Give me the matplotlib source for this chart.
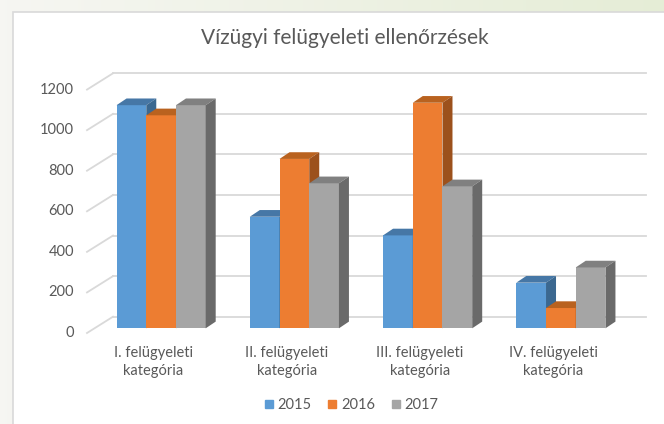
import matplotlib
matplotlib.use('Agg')
import matplotlib.pyplot as plt
import matplotlib.transforms as mtransforms
from matplotlib.patches import Polygon, Rectangle
from matplotlib.lines import Line2D
import numpy as np

# data
categories = ['I. felügyeleti\nkategória', 'II. felügyeleti\nkategória',
              'III. felügyeleti\nkategória', 'IV. felügyeleti\nkategória']
years = ['2015', '2016', '2017']
v2015 = [1100, 550, 458, 225]
v2016 = [1050, 835, 1112, 100]
v2017 = [1100, 715, 700, 300]
yticks = [0, 200, 400, 600, 800, 1000, 1200]
title = 'Vízügyi felügyeleti ellenőrzések'

front_colors = ['#5b9bd5', '#ed7d31', '#a5a5a5']
top_colors = ['#4677a6', '#b9621f', '#808080']
side_colors = ['#3b6890', '#9c511c', '#6a6a6a']
text_color = '#595959'
grid_color = '#d9d9d9'

plt.rcParams['font.family'] = ['Lato', 'DejaVu Sans']

W, H = 664, 424
fig = plt.figure(figsize=(W / 100, H / 100), dpi=100)

# slide background + chart area
bg = fig.add_axes([0, 0, 1, 1], zorder=-10)
grad = np.linspace(0, 1, 256)[:, None]
c0 = np.array([0.965, 0.965, 0.950])
c1 = np.array([0.900, 0.930, 0.840])
bg.imshow((c0 + (c1 - c0) * grad)[None, :, :], aspect='auto', extent=[0, 1, 0, 1])
bg.add_patch(Rectangle((13 / W, -0.1), 1, 1.1 - 12 / H, facecolor='white',
                       edgecolor=grid_color, lw=1.2))
bg.set_xlim(0, 1)
bg.set_ylim(0, 1)
bg.axis('off')

# plot axes = front plane of the bars
ax_l, ax_b, ax_w, ax_h = 94.5, 95.7, 533, 243.4
ax = fig.add_axes([ax_l / W, ax_b / H, ax_w / W, ax_h / H])
ax.set_xlim(-0.5, 3.5)
ax.set_ylim(0, 1200)
ax.axis('off')
px_x = ax_w / 4
px_y = ax_h / 1200

# back wall / front edge offsets (pixels -> data)
bx, by = 18.5 / px_x, 11.6 / px_y
fx, fy = -7.5 / px_x, -4.7 / px_y

for t in yticks:
    ax.plot([-0.5 + fx, -0.5 + bx], [t + fy, t + by], color=grid_color, lw=1.3,
            clip_on=False, zorder=1)
    ax.plot([-0.5 + bx, 3.5 + bx], [t + by, t + by], color=grid_color, lw=1.3,
            clip_on=False, zorder=1)
    ax.text(-0.5 + fx - 13 / px_x, t + fy, str(t), ha='right', va='center',
            fontsize=10.5, color=text_color)

# bars
x = np.arange(len(categories))
width = 0.223
dx, dy = 10 / px_x, 6.7 / px_y
for j, vals in enumerate([v2015, v2016, v2017]):
    xs = x + (j - 1) * width
    ax.bar(xs, vals, width=width, color=front_colors[j], zorder=2 + j, lw=0)
    for xi, v in zip(xs, vals):
        x0, x1 = xi - width / 2, xi + width / 2
        ax.add_patch(Polygon([(x0, v), (x1, v), (x1 + dx, v + dy), (x0 + dx, v + dy)],
                             closed=True, facecolor=top_colors[j], lw=0, zorder=2 + j,
                             clip_on=False))
        ax.add_patch(Polygon([(x1, 0), (x1, v), (x1 + dx, v + dy), (x1 + dx, dy)],
                             closed=True, facecolor=side_colors[j], lw=0, zorder=2 + j,
                             clip_on=False))

# category labels on the front edge
for i, lab in enumerate(categories):
    off = mtransforms.ScaledTranslation(-7.5 / 100, -34 / 100, fig.dpi_scale_trans)
    ax.text(i, 0, lab, transform=ax.transData + off, ha='center', va='center',
            fontsize=10.5, color=text_color, linespacing=1.35)

fig.text(345 / W, 1 - 38 / H, title, ha='center', va='center', fontsize=15,
         color=text_color)

handles = [Line2D([], [], marker='s', ls='', color=c, markersize=6) for c in front_colors]
fig.legend(handles, years, loc='center', bbox_to_anchor=(350 / W, 1 - 405 / H),
           ncol=3, frameon=False, fontsize=10.5, handletextpad=0.1,
           columnspacing=0.9, handlelength=1.0, labelcolor=text_color)

fig.savefig('out.png', dpi=100)
